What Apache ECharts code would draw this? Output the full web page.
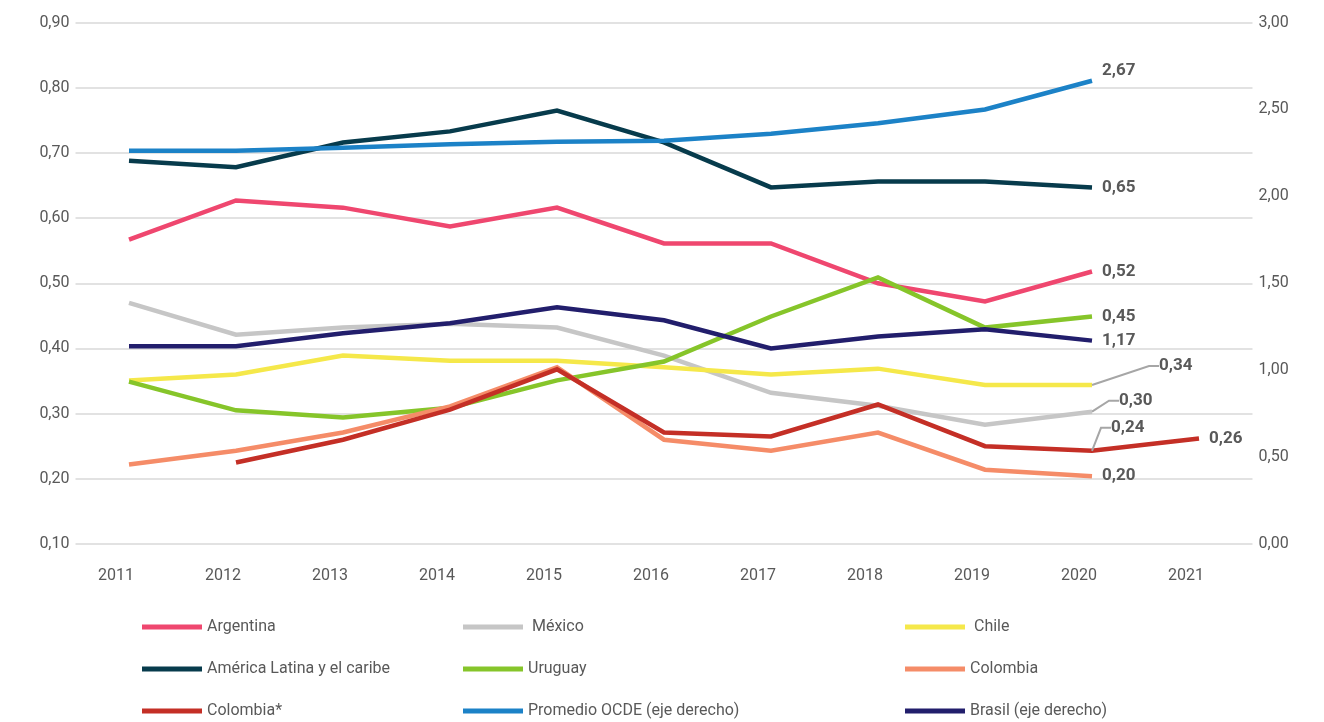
<!DOCTYPE html>
<html>
<head>
<meta charset="utf-8">
<script src="https://cdn.jsdelivr.net/npm/echarts@6/dist/echarts.min.js"></script>
<style>
  html, body { margin: 0; padding: 0; background: #fff; }
  #main { width: 1324px; height: 722px; }
</style>
</head>
<body>
<div id="main"></div>
<script>
// years on the x axis
const years = ['2011', '2012', '2013', '2014', '2015', '2016', '2017', '2018', '2019', '2020', '2021'];

// left axis series
const argentina = [0.567, 0.627, 0.616, 0.587, 0.616, 0.561, 0.561, 0.500, 0.472, 0.518, null];
const mexico = [0.470, 0.421, 0.432, 0.438, 0.432, 0.389, 0.332, 0.312, 0.283, 0.303, null];
const chile = [0.351, 0.360, 0.389, 0.381, 0.381, 0.371, 0.360, 0.369, 0.344, 0.344, null];
const americaLatina = [0.688, 0.678, 0.716, 0.733, 0.765, 0.716, 0.647, 0.656, 0.656, 0.647, null];
const uruguay = [0.349, 0.305, 0.294, 0.309, 0.351, 0.380, 0.449, 0.509, 0.432, 0.449, null];
const colombia = [0.222, 0.243, 0.271, 0.311, 0.371, 0.260, 0.243, 0.271, 0.214, 0.204, null];
const colombiaStar = [null, 0.225, 0.260, 0.306, 0.368, 0.271, 0.265, 0.314, 0.250, 0.243, 0.262];

// right axis series
const ocde = [2.262, 2.262, 2.279, 2.300, 2.314, 2.320, 2.360, 2.420, 2.500, 2.665];
const brasil = [1.137, 1.137, 1.212, 1.270, 1.362, 1.287, 1.125, 1.194, 1.235, 1.170];

const leftTicks = { min: 0.1, max: 0.9, interval: 0.1 };
const rightTicks = { min: 0, max: 3, interval: 0.5 };

const fmt = v => v.toFixed(2).replace('.', ',');
const textGrey = '#595959';

// show a value label on the given points (default: last point)
function withLabels(values, idx, guideAt) {
  if (!idx) {
    let last = -1;
    values.forEach((v, i) => { if (v != null) last = i; });
    idx = [last];
  }
  return values.map((v, i) => {
    if (!idx.includes(i)) return v;
    const item = { value: v, label: { show: true } };
    if (guideAt != null && i !== guideAt) item.labelLine = { show: false };
    return item;
  });
}

function line(name, values, color, opts) {
  opts = opts || {};
  const s = {
    name: name,
    type: 'line',
    yAxisIndex: opts.right ? 1 : 0,
    data: withLabels(values, opts.labelAt, opts.shiftAt),
    symbol: 'circle',
    symbolSize: 0.01,
    showSymbol: true,
    connectNulls: false,
    lineStyle: { color: color, width: 4.5, join: 'miter' },
    itemStyle: { color: color },
    label: {
      show: false,
      position: 'right',
      distance: 10,
      fontSize: 17,
      fontWeight: 'bold',
      fontFamily: 'Roboto',
      color: textGrey,
      formatter: p => fmt(p.value)
    },
    emphasis: { disabled: true },
    z: opts.z || 2
  };
  if (opts.shift) {
    const at = opts.shiftAt;
    s.labelLayout = function (p) {
      if (at != null && p.dataIndex !== at) return {};
      return { dx: opts.shift[0], dy: opts.shift[1] };
    };
  }
  if (opts.guide) {
    s.labelLine = { show: true, length2: 10, lineStyle: { color: '#A6A6A6', width: 2 } };
  }
  return s;
}

const chart = echarts.init(document.getElementById('main'));

const legendBase = {
  orient: 'vertical',
  top: 619,
  padding: 0,
  itemWidth: 60,
  itemHeight: 5,
  itemGap: 26,
  icon: 'rect',
  selectedMode: false,
  textStyle: { fontSize: 16, color: textGrey, fontFamily: 'Roboto' }
};

const option = {
  animation: false,
  backgroundColor: '#fff',
  grid: { left: 75.5, right: 71.5, top: 22.5, bottom: 178, containLabel: false },
  legend: [
    Object.assign({}, legendBase, { left: 142, data: ['Argentina', 'América Latina y el caribe', 'Colombia*'] }),
    Object.assign({}, legendBase, { left: 463, data: [' México', 'Uruguay', 'Promedio OCDE (eje derecho)'] }),
    Object.assign({}, legendBase, { left: 905, data: [' Chile', 'Colombia', 'Brasil (eje derecho)'] })
  ],
  xAxis: {
    type: 'category',
    data: years,
    boundaryGap: true,
    axisLine: { show: false },
    axisTick: { show: false },
    axisLabel: { fontSize: 16, color: textGrey, fontFamily: 'Roboto', margin: 24, padding: [0, 26, 0, 0] }
  },
  yAxis: [
    {
      type: 'value',
      min: leftTicks.min,
      max: leftTicks.max,
      interval: leftTicks.interval,
      axisLine: { show: false },
      axisTick: { show: false },
      splitLine: { lineStyle: { color: '#D9D9D9', width: 1.5 } },
      axisLabel: { fontSize: 16, color: textGrey, fontFamily: 'Roboto', margin: 6, formatter: fmt }
    },
    {
      type: 'value',
      position: 'right',
      min: rightTicks.min,
      max: rightTicks.max,
      interval: rightTicks.interval,
      axisLine: { show: false },
      axisTick: { show: false },
      splitLine: { show: false },
      axisLabel: { fontSize: 16, color: textGrey, fontFamily: 'Roboto', margin: 6, formatter: fmt }
    }
  ],
  series: [
    line('América Latina y el caribe', americaLatina, '#073B4C'),
    line('Promedio OCDE (eje derecho)', ocde, '#1C82C7', { right: true, shift: [0, -10] }),
    line('Argentina', argentina, '#EF476F'),
    line(' México', mexico, '#C6C6C6', { shift: [17, -11], guide: true }),
    line(' Chile', chile, '#F5E84A', { shift: [57, -19], guide: true }),
    line('Uruguay', uruguay, '#86C52A'),
    line('Colombia', colombia, '#F58C68'),
    line('Colombia*', colombiaStar, '#C42F26', { labelAt: [9, 10], shift: [9, -23], shiftAt: 9, guide: true, z: 3 }),
    line('Brasil (eje derecho)', brasil, '#221E6C', { right: true, z: 3 })
  ]
};

chart.setOption(option);
</script>
</body>
</html>
